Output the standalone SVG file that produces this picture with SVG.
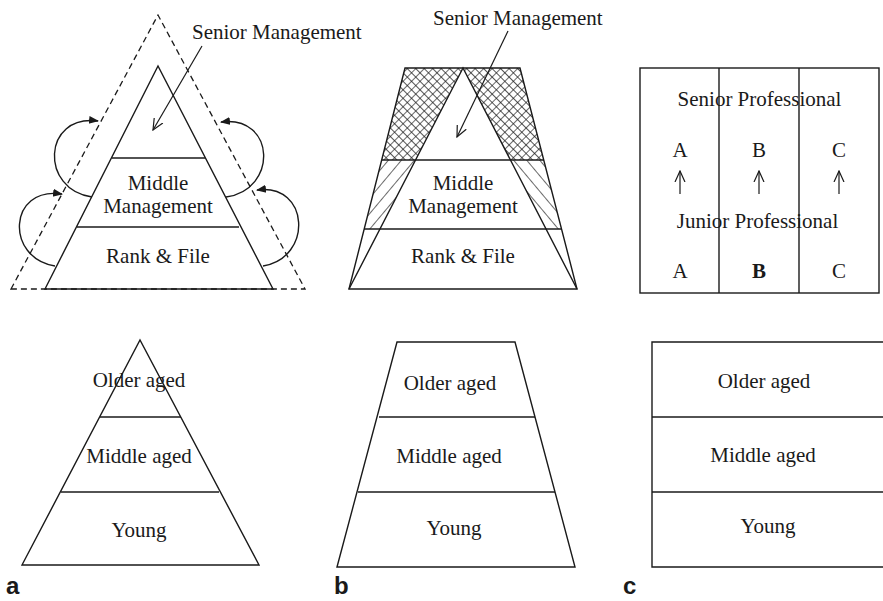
<svg xmlns="http://www.w3.org/2000/svg" width="883" height="601" viewBox="0 0 883 601">
  <style>
    .ln { fill: none; stroke: #1a1a1a; stroke-width: 1.4; }
    .dash { fill: none; stroke: #1a1a1a; stroke-width: 1.3; stroke-dasharray: 6 4; }
    .arc { fill: none; stroke: #1a1a1a; stroke-width: 1.4; marker-end: url(#solidHead); }
    .ptr { fill: none; stroke: #1a1a1a; stroke-width: 1.2; marker-end: url(#openHead); }
    text.t { font-family: 'Liberation Serif', 'DejaVu Serif', serif; font-size: 21px; fill: #1a1a1a; }
    .c { text-anchor: middle; }
    text.lbl { font-family: 'Liberation Sans', 'DejaVu Sans', sans-serif; font-size: 24px; font-weight: bold; fill: #1a1a1a; }
  </style>
  <defs>
    <marker id="solidHead" viewBox="0 0 10 10" refX="9" refY="5" markerWidth="10" markerHeight="10" markerUnits="userSpaceOnUse" orient="auto">
      <path d="M0,1 L10,5 L0,9 Z" fill="#1a1a1a"/>
    </marker>
    <marker id="openHead" viewBox="0 0 12 12" refX="11" refY="6" markerWidth="12" markerHeight="12" markerUnits="userSpaceOnUse" orient="auto">
      <path d="M0,1 L11,6 L0,11" fill="none" stroke="#1a1a1a" stroke-width="1.2"/>
    </marker>
    <pattern id="cross" width="6" height="6" patternUnits="userSpaceOnUse" patternTransform="rotate(45)">
      <path d="M0,0 H6 M0,0 V6" stroke="#1a1a1a" stroke-width="1.3"/>
    </pattern>
    <pattern id="hatchL" width="10" height="10" patternUnits="userSpaceOnUse" patternTransform="rotate(40)">
      <path d="M0,0 V10" stroke="#1a1a1a" stroke-width="1.3"/>
    </pattern>
    <pattern id="hatchR" width="10" height="10" patternUnits="userSpaceOnUse" patternTransform="rotate(-40)">
      <path d="M0,0 V10" stroke="#1a1a1a" stroke-width="1.3"/>
    </pattern>
  </defs>

  <!-- Panel a, top: management pyramid inside a dashed outline -->
  <g id="a-pyramid" font-family="Liberation Serif, DejaVu Serif, serif">
    <path class="dash" d="M11,289 L158,15 L305,289 Z"/>
    <path class="ln" d="M45,289 L158,66 L273,289 Z"/>
    <line class="ln" x1="112" y1="158" x2="205" y2="158"/>
    <line class="ln" x1="77" y1="227" x2="239" y2="227"/>
    <text class="t c" x="158" y="190">Middle</text>
    <text class="t c" x="158" y="213">Management</text>
    <text class="t c" x="158" y="263">Rank &amp; File</text>
    <text class="t" x="192" y="39">Senior Management</text>
  </g>

  <!-- Panel b, top: trapezoid with hatched sides -->
  <g id="b-trapezoid" font-family="Liberation Serif, DejaVu Serif, serif">
    <polygon points="405,68 463,68 415.5,160 381.7,160" fill="url(#cross)"/>
    <polygon points="463,68 520,68 543.7,160 510.5,160" fill="url(#cross)"/>
    <polygon points="381.7,160 415.5,160 380,229 364.2,229" fill="url(#hatchL)"/>
    <polygon points="510.5,160 543.7,160 561.5,229 546,229" fill="url(#hatchR)"/>
    <path class="ln" d="M349,289 L405,68 L520,68 L577,289 Z"/>
    <path class="ln" d="M349,289 L463,68 L577,289"/>
    <line class="ln" x1="382" y1="160" x2="544" y2="160"/>
    <line class="ln" x1="364" y1="229" x2="561" y2="229"/>
    <text class="t c" x="463" y="190">Middle</text>
    <text class="t c" x="463" y="213">Management</text>
    <text class="t c" x="463" y="263">Rank &amp; File</text>
    <text class="t" x="433" y="25">Senior Management</text>
  </g>

  <!-- Panel c, top: professional columns -->
  <g id="c-columns" font-family="Liberation Serif, DejaVu Serif, serif">
    <rect class="ln" x="640" y="68" width="239" height="225"/>
    <line class="ln" x1="719" y1="68" x2="719" y2="293"/>
    <line class="ln" x1="799" y1="68" x2="799" y2="293"/>
    <text class="t c" x="759.5" y="106">Senior Professional</text>
    <text class="t c" x="680" y="157">A</text>
    <text class="t c" x="759" y="157">B</text>
    <text class="t c" x="839" y="157">C</text>
    <text class="t c" x="757.5" y="228">Junior Professional</text>
    <text class="t c" x="680" y="278">A</text>
    <text class="t c" x="759" y="278" font-weight="bold">B</text>
    <text class="t c" x="839" y="278">C</text>
  </g>

  <!-- Panel a, bottom: age pyramid -->
  <g id="a-age" font-family="Liberation Serif, DejaVu Serif, serif">
    <path class="ln" d="M22,565 L140,340 L259,565 Z"/>
    <line class="ln" x1="100" y1="417" x2="181" y2="417"/>
    <line class="ln" x1="61" y1="492" x2="219" y2="492"/>
    <text class="t c" x="139" y="387">Older aged</text>
    <text class="t c" x="139" y="463">Middle aged</text>
    <text class="t c" x="139" y="537">Young</text>
  </g>

  <!-- Panel b, bottom: age trapezoid -->
  <g id="b-age" font-family="Liberation Serif, DejaVu Serif, serif">
    <path class="ln" d="M337,567 L397,342 L515,342 L575,567 Z"/>
    <line class="ln" x1="379" y1="417" x2="535" y2="417"/>
    <line class="ln" x1="358" y1="492" x2="555" y2="492"/>
    <text class="t c" x="450" y="390">Older aged</text>
    <text class="t c" x="449" y="463">Middle aged</text>
    <text class="t c" x="454" y="535">Young</text>
  </g>

  <!-- Panel c, bottom: age rectangle -->
  <g id="c-age" font-family="Liberation Serif, DejaVu Serif, serif">
    <path class="ln" d="M890,342 L652,342 L652,567 L890,567"/>
    <line class="ln" x1="652" y1="417" x2="890" y2="417"/>
    <line class="ln" x1="652" y1="492" x2="890" y2="492"/>
    <text class="t c" x="764" y="388">Older aged</text>
    <text class="t c" x="763" y="462">Middle aged</text>
    <text class="t c" x="768" y="533">Young</text>
  </g>

  <!-- Connectors -->
  <g id="connectors">
    <path class="arc" d="M92,197 C40,190 42,114 98,121"/>
    <path class="arc" d="M55,266 C5,258 8,186 62,194"/>
    <path class="arc" d="M226,197 C278,190 276,115 221,122"/>
    <path class="arc" d="M263,266 C313,258 310,183 257,190"/>
    <line class="ptr" x1="202" y1="46" x2="153" y2="130"/>
    <line class="ptr" x1="508" y1="31" x2="457" y2="137"/>
    <line class="ptr" x1="680" y1="194" x2="680" y2="171"/>
    <line class="ptr" x1="759" y1="194" x2="759" y2="171"/>
    <line class="ptr" x1="839" y1="194" x2="839" y2="171"/>
  </g>

  <!-- Panel letters -->
  <g id="labels">
    <text class="lbl" x="6" y="594">a</text>
    <text class="lbl" x="334" y="594">b</text>
    <text class="lbl" x="623" y="594">c</text>
  </g>
</svg>
